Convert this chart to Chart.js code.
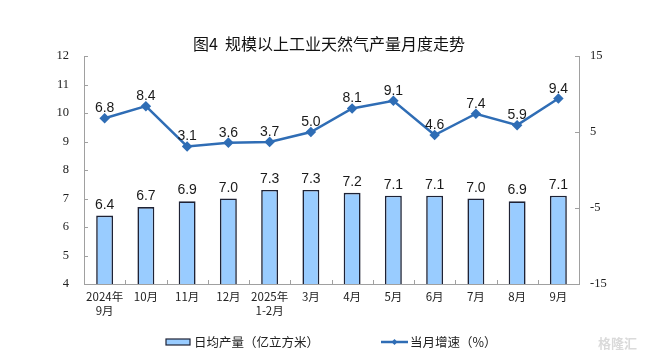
<!DOCTYPE html>
<html><head><meta charset="utf-8">
<script src="https://cdn.jsdelivr.net/npm/chart.js@4"></script>
<style>html,body{margin:0;padding:0;background:#fff}#wrap{width:650px;height:360px}</style>
</head><body><div id="wrap"><canvas id="c" width="650" height="360"></canvas></div>
<script>
const categories = [["2024年","9月"],"10月","11月","12月",["2025年","1-2月"],"3月","4月","5月","6月","7月","8月","9月"];
const dailyOutput = [6.4,6.7,6.9,7.0,7.3,7.3,7.2,7.1,7.1,7.0,6.9,7.1];
const monthlyGrowth = [6.8,8.4,3.1,3.6,3.7,5.0,8.1,9.1,4.6,7.4,5.9,9.4];
const leftTicks = [4,5,6,7,8,9,10,11,12];
const rightTicks = [-15,-5,5,15];
const titleText = "图4  规模以上工业天然气产量月度走势";
const barLabel = "日均产量（亿立方米）";
const lineLabel = "当月增速（%）";

const CJK = '"Noto Sans CJK SC", sans-serif';
const lineColor = '#2F6DB5';
const barFill = '#99CCFF';
const barBorder = '#1E2235';

const extras = {
  id: 'extras',
  afterDatasetsDraw(chart) {
    const ctx = chart.ctx;
    const area = chart.chartArea;
    ctx.save();
    ctx.strokeStyle = '#A0A0A0'; ctx.lineWidth = 1;
    const ys = chart.scales.y, y1 = chart.scales.y1, xs = chart.scales.x;
    leftTicks.forEach(v => { const p = Math.round(ys.getPixelForValue(v)) + 0.5;
      ctx.beginPath(); ctx.moveTo(area.left, p); ctx.lineTo(area.left + 4, p); ctx.stroke(); });
    rightTicks.forEach(v => { const p = Math.round(y1.getPixelForValue(v)) + 0.5;
      ctx.beginPath(); ctx.moveTo(area.right, p); ctx.lineTo(area.right - 4, p); ctx.stroke(); });
    for (let i = 1; i < categories.length; i++) {
      const p = Math.round((xs.getPixelForValue(i - 1) + xs.getPixelForValue(i)) / 2) + 0.5;
      ctx.beginPath(); ctx.moveTo(p, area.bottom); ctx.lineTo(p, area.bottom - 4); ctx.stroke();
    }
    ctx.fillStyle = '#1a1a1a';
    ctx.font = '14px "Liberation Sans", Arial, sans-serif';
    ctx.textAlign = 'center'; ctx.textBaseline = 'alphabetic';
    chart.getDatasetMeta(0).data.forEach((el, i) => {
      ctx.fillText(dailyOutput[i].toFixed(1), el.x, el.y - 7);
    });
    chart.getDatasetMeta(1).data.forEach((el, i) => {
      ctx.fillText(monthlyGrowth[i].toFixed(1), el.x, el.y - 6);
    });
    ctx.fillStyle = '#111';
    ctx.font = '16px ' + CJK;
    ctx.textBaseline = 'middle';
    ctx.fillText(titleText, 329, 44);
    ctx.font = '12.5px ' + CJK;
    ctx.textAlign = 'left';
    ctx.fillStyle = barFill; ctx.fillRect(166, 339, 24, 6);
    ctx.strokeStyle = barBorder; ctx.lineWidth = 1.2; ctx.strokeRect(166, 339, 24, 6);
    ctx.fillStyle = '#222'; ctx.fillText(barLabel, 194, 342);
    ctx.strokeStyle = lineColor; ctx.lineWidth = 2.5;
    ctx.beginPath(); ctx.moveTo(381, 342); ctx.lineTo(408, 342); ctx.stroke();
    ctx.fillStyle = lineColor;
    ctx.beginPath(); ctx.moveTo(394.5, 339); ctx.lineTo(397.5, 342); ctx.lineTo(394.5, 345); ctx.lineTo(391.5, 342); ctx.closePath(); ctx.fill();
    ctx.fillStyle = '#222'; ctx.fillText(lineLabel, 410, 342);
    ctx.fillStyle = 'rgba(150,150,150,0.35)';
    ctx.font = 'bold 13px ' + CJK;
    ctx.fillText('格隆汇', 598, 343);
    ctx.restore();
  }
};

new Chart(document.getElementById('c'), {
  data: {
    labels: categories,
    datasets: [
      { type: 'bar', label: barLabel, data: dailyOutput, yAxisID: 'y',
        backgroundColor: barFill, borderColor: barBorder, borderWidth: 1.6,
        barPercentage: 0.41, categoryPercentage: 1, order: 2 },
      { type: 'line', label: lineLabel, data: monthlyGrowth, yAxisID: 'y1',
        borderColor: lineColor, backgroundColor: lineColor, borderWidth: 2.5,
        pointStyle: 'rectRot', pointRadius: 3.5, pointHoverRadius: 3.5, tension: 0, order: 1 }
    ]
  },
  options: {
    responsive: false, animation: false, devicePixelRatio: 1,
    layout: { padding: { top: 56, left: 0, right: 0, bottom: 0 } },
    plugins: { legend: { display: false }, tooltip: { enabled: false }, title: { display: false } },
    scales: {
      x: {
        grid: { display: false, drawTicks: false },
        border: { color: '#A0A0A0', width: 1 },
        ticks: { color: '#222', font: { family: CJK, size: 11.5 }, padding: 6, maxRotation: 0, autoSkip: false },
        afterFit(s) { s.height = 76; }
      },
      y: {
        position: 'left', min: 4, max: 12,
        afterBuildTicks(s) { s.ticks = leftTicks.map(v => ({ value: v })); },
        grid: { display: false, drawTicks: false },
        border: { color: '#A0A0A0', width: 1 },
        ticks: { color: '#222', font: { family: '"Liberation Serif", serif', size: 12.5 }, padding: 15 },
        afterFit(s) { s.width = 84; }
      },
      y1: {
        position: 'right', min: -15, max: 15,
        afterBuildTicks(s) { s.ticks = rightTicks.map(v => ({ value: v })); },
        grid: { display: false, drawTicks: false },
        border: { color: '#A0A0A0', width: 1 },
        ticks: { color: '#222', font: { family: '"Liberation Serif", serif', size: 12.5 }, padding: 11 },
        afterFit(s) { s.width = 71; }
      }
    }
  },
  plugins: [extras]
});
</script>
</body></html>
